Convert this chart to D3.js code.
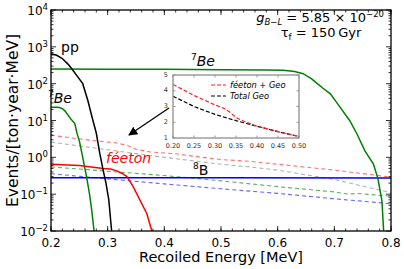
<!DOCTYPE html>
<html>
<head>
<meta charset="utf-8">
<script src="https://cdn.jsdelivr.net/npm/d3@7"></script>
<style>
  body { margin: 0; background: #fff; }
  svg { display: block; font-family: "DejaVu Sans", sans-serif; }
</style>
</head>
<body>
<svg id="chart" width="404" height="269"></svg>
<script>
// ---- data: [recoil energy MeV, events/(ton·year·MeV)] ----
var ppLine = [[0.20,650],[0.21,590],[0.22,480],[0.23,340],[0.237,250],[0.245,170],[0.256,100],
  [0.265,35],[0.274,10],[0.28,4.5],[0.286,1.3],[0.292,0.45],[0.297,0.2],[0.302,0.07],[0.307,0.01]];
var be7Low = [[0.20,23],[0.21,23],[0.215,22.5],[0.22,21],[0.225,18],[0.23,14],[0.235,11],[0.242,8.3],
  [0.246,4.4],[0.25,2.8],[0.256,1.0],[0.263,0.28],[0.268,0.1],[0.272,0.035],[0.276,0.01]];
var be7High = [[0.20,250],[0.30,248],[0.40,245],[0.50,240],[0.58,235],[0.61,230],[0.63,215],[0.645,187],
  [0.66,135],[0.67,100],[0.68,75],[0.693,53],[0.71,23],[0.727,10],[0.74,4.3],[0.754,1.5],[0.769,0.66],
  [0.777,0.26],[0.784,0.066],[0.787,0.01]];
var feeton = [[0.20,0.65],[0.25,0.6],[0.292,0.5],[0.305,0.48],[0.316,0.43],[0.325,0.37],[0.334,0.3],
  [0.345,0.16],[0.357,0.069],[0.369,0.03],[0.378,0.01]];
var b8Line = [[0.20,0.28],[0.50,0.28],[0.80,0.275]];
var feetonGeo = [[0.20,4.0],[0.24,3.3],[0.28,2.8],[0.316,2.45],[0.335,2.1],[0.35,1.65],[0.375,1.4],
  [0.42,1.25],[0.46,1.03],[0.50,0.87],[0.55,0.78],[0.60,0.65],[0.70,0.45],[0.80,0.29]];
var totalGeo = [[0.20,2.6],[0.30,1.6],[0.40,1.0],[0.50,0.65],[0.55,0.55],[0.60,0.45],[0.70,0.25],[0.80,0.11]];
var geoGreen = [[0.20,0.55],[0.30,0.42],[0.40,0.32],[0.50,0.23],[0.60,0.16],[0.70,0.115],[0.725,0.1],
  [0.74,0.105],[0.80,0.088]];
var geoBlue = [[0.20,0.36],[0.30,0.26],[0.40,0.19],[0.50,0.14],[0.60,0.105],[0.70,0.075],[0.80,0.055]];

// inset (linear scale)
var insetFeetonGeo = [[0.20,4.4],[0.25,3.7],[0.30,3.1],[0.32,2.9],[0.335,2.65],[0.35,2.3],[0.37,2.05],
  [0.40,1.75],[0.45,1.4],[0.50,1.1]];
var insetTotalGeo = [[0.20,3.65],[0.25,3.0],[0.30,2.5],[0.35,2.1],[0.40,1.75],[0.45,1.4],[0.50,1.1]];

var xTicks = [0.2, 0.3, 0.4, 0.5, 0.6, 0.7, 0.8];
var yExponents = [-2, -1, 0, 1, 2, 3, 4];
var insetXTicks = [0.20, 0.25, 0.30, 0.35, 0.40, 0.45, 0.50];
var insetYTicks = [1, 2, 3, 4, 5];

var svg = d3.select("#chart");
var pLeft = 51, pRight = 391, pTop = 10, pBottom = 231;

var x = d3.scaleLinear().domain([0.2, 0.8]).range([pLeft, pRight]);
var y = d3.scaleLog().domain([1e-2, 1e4]).range([pBottom, pTop]);

var defs = svg.append("defs");
defs.append("clipPath").attr("id", "clip")
  .append("rect").attr("x", pLeft).attr("y", pTop).attr("width", pRight - pLeft).attr("height", pBottom - pTop);

var line = d3.line().x(function(d) { return x(d[0]); }).y(function(d) { return y(d[1]); });

var plot = svg.append("g").attr("clip-path", "url(#clip)");

function addLine(data, colour, width, dash) {
  plot.append("path").datum(data)
    .attr("d", line)
    .attr("fill", "none")
    .attr("stroke", colour)
    .attr("stroke-width", width)
    .attr("stroke-dasharray", dash || null);
}

// dashed backgrounds first
addLine(feetonGeo, "#ff7070", 1.1, "4,3");
addLine(totalGeo, "#b0b0b0", 1.1, "4,3");
addLine(geoGreen, "#5aaf5a", 1.1, "4,3");
addLine(geoBlue, "#6666ff", 1.1, "4,3");
// solid fluxes
addLine(b8Line, "#0000ee", 1.5);
addLine(be7High, "#008000", 1.5);
addLine(be7Low, "#008000", 1.5);
addLine(feeton, "#ff0000", 1.5);
addLine(ppLine, "#000000", 1.5);

// ---- axes (ticks inward, mirrored) ----
var minorX = d3.range(0.2, 0.8001, 0.02);
var minorY = [];
yExponents.slice(0, -1).forEach(function(e) {
  for (var k = 2; k <= 9; k++) minorY.push(k * Math.pow(10, e));
});

function tickLines(g, vals, fn) { vals.forEach(function(v) { fn(g, v); }); }

var axes = svg.append("g").attr("stroke", "#000");
tickLines(axes, xTicks, function(g, v) {
  g.append("line").attr("x1", x(v)).attr("x2", x(v)).attr("y1", pBottom).attr("y2", pBottom - 5);
  g.append("line").attr("x1", x(v)).attr("x2", x(v)).attr("y1", pTop).attr("y2", pTop + 5);
});
tickLines(axes, minorX, function(g, v) {
  g.append("line").attr("x1", x(v)).attr("x2", x(v)).attr("y1", pBottom).attr("y2", pBottom - 2.5);
  g.append("line").attr("x1", x(v)).attr("x2", x(v)).attr("y1", pTop).attr("y2", pTop + 2.5);
});
tickLines(axes, yExponents, function(g, e) {
  var v = Math.pow(10, e);
  g.append("line").attr("x1", pLeft).attr("x2", pLeft + 5).attr("y1", y(v)).attr("y2", y(v));
  g.append("line").attr("x1", pRight).attr("x2", pRight - 5).attr("y1", y(v)).attr("y2", y(v));
});
tickLines(axes, minorY, function(g, v) {
  g.append("line").attr("x1", pLeft).attr("x2", pLeft + 2.5).attr("y1", y(v)).attr("y2", y(v));
  g.append("line").attr("x1", pRight).attr("x2", pRight - 2.5).attr("y1", y(v)).attr("y2", y(v));
});
axes.selectAll("line").attr("stroke-width", 0.8);

svg.append("rect")
  .attr("x", pLeft).attr("y", pTop).attr("width", pRight - pLeft).attr("height", pBottom - pTop)
  .attr("fill", "none").attr("stroke", "#000").attr("stroke-width", 1.3);

// tick labels
svg.append("g").selectAll("text").data(xTicks).enter().append("text")
  .attr("x", function(d) { return x(d); })
  .attr("y", pBottom + 16)
  .attr("text-anchor", "middle")
  .attr("font-size", 12)
  .text(function(d) { return d.toFixed(1); });

var yl = svg.append("g").selectAll("text").data(yExponents).enter().append("text")
  .attr("x", pLeft - 3)
  .attr("y", function(d) { return y(Math.pow(10, d)) + 5; })
  .attr("text-anchor", "end")
  .attr("font-size", 12);
yl.append("tspan").text("10");
yl.append("tspan").attr("dy", -5).attr("font-size", 8.5)
  .text(function(d) { return d < 0 ? "\u2212" + (-d) : d; });

// axis titles
svg.append("text")
  .attr("x", 221).attr("y", 262)
  .attr("text-anchor", "middle").attr("font-size", 14.5)
  .text("Recoiled Energy [MeV]");
svg.append("text")
  .attr("transform", "translate(18," + (pTop + pBottom) / 2 + ") rotate(-90)")
  .attr("text-anchor", "middle").attr("font-size", 15.5)
  .text("Events/[ton\u00b7year\u00b7MeV]");

// ---- curve labels ----
svg.append("text").attr("x", 61).attr("y", 52).attr("font-size", 14).text("pp");
var be1 = svg.append("text").attr("x", 48).attr("y", 103).attr("font-size", 14);
be1.append("tspan").attr("font-size", 9).attr("dy", -6).text("7");
be1.append("tspan").attr("dy", 6).attr("font-style", "italic").text("Be");
var be2 = svg.append("text").attr("x", 191).attr("y", 66).attr("font-size", 14);
be2.append("tspan").attr("font-size", 9).attr("dy", -6).text("7");
be2.append("tspan").attr("dy", 6).attr("font-style", "italic").text("Be");
var b8 = svg.append("text").attr("x", 193).attr("y", 175).attr("font-size", 14);
b8.append("tspan").attr("font-size", 9).attr("dy", -6).text("8");
b8.append("tspan").attr("dy", 6).text("B");
svg.append("text").attr("x", 106).attr("y", 163).attr("font-size", 14)
  .attr("font-style", "italic").attr("fill", "#ff0000").text("f\u00e9eton");

// parameters text
var g1 = svg.append("text").attr("x", 384).attr("y", 22).attr("text-anchor", "end").attr("font-size", 13);
g1.append("tspan").attr("font-style", "italic").text("g");
g1.append("tspan").attr("font-size", 8.5).attr("font-style", "italic").attr("dy", 3).text("B\u2212L");
g1.append("tspan").attr("dy", -3).text(" = 5.85 \u00d7 10");
g1.append("tspan").attr("font-size", 8.5).attr("dy", -5).text("\u221220");
var g2 = svg.append("text").attr("x", 321).attr("y", 37).attr("text-anchor", "middle").attr("font-size", 13);
g2.append("tspan").text("\u03c4");
g2.append("tspan").attr("font-size", 8.5).attr("dy", 3).text("f");
g2.append("tspan").attr("dy", -3).text(" = 150\u2009Gyr");

// ---- arrow ----
defs.append("marker").attr("id", "head").attr("viewBox", "0 0 10 10")
  .attr("refX", 9).attr("refY", 5).attr("markerWidth", 7).attr("markerHeight", 7)
  .attr("orient", "auto")
  .append("path").attr("d", "M0,0 L10,5 L0,10 z").attr("fill", "#000");
svg.append("line").attr("x1", 169).attr("y1", 108).attr("x2", 129).attr("y2", 135)
  .attr("stroke", "#000").attr("stroke-width", 1.3).attr("marker-end", "url(#head)");

// ---- inset ----
var ix = d3.scaleLinear().domain([0.2, 0.5]).range([173, 299]);
var iy = d3.scaleLinear().domain([1, 5]).range([138, 75]);
var inset = svg.append("g");
inset.append("rect").attr("x", 173).attr("y", 75).attr("width", 126).attr("height", 63)
  .attr("fill", "#fff");
var iline = d3.line().x(function(d) { return ix(d[0]); }).y(function(d) { return iy(d[1]); });
inset.append("path").datum(insetTotalGeo).attr("d", iline).attr("fill", "none")
  .attr("stroke", "#000").attr("stroke-width", 1.2).attr("stroke-dasharray", "4,2");
inset.append("path").datum(insetFeetonGeo).attr("d", iline).attr("fill", "none")
  .attr("stroke", "#ff2020").attr("stroke-width", 1.2).attr("stroke-dasharray", "4,2");
insetXTicks.forEach(function(v) {
  inset.append("line").attr("x1", ix(v)).attr("x2", ix(v)).attr("y1", 138).attr("y2", 135.5)
    .attr("stroke", "#555").attr("stroke-width", 0.6);
  inset.append("line").attr("x1", ix(v)).attr("x2", ix(v)).attr("y1", 75).attr("y2", 77.5)
    .attr("stroke", "#555").attr("stroke-width", 0.6);
});
insetYTicks.forEach(function(v) {
  inset.append("line").attr("x1", 173).attr("x2", 175.5).attr("y1", iy(v)).attr("y2", iy(v))
    .attr("stroke", "#555").attr("stroke-width", 0.6);
  inset.append("line").attr("x1", 299).attr("x2", 296.5).attr("y1", iy(v)).attr("y2", iy(v))
    .attr("stroke", "#555").attr("stroke-width", 0.6);
});
inset.append("rect").attr("x", 173).attr("y", 75).attr("width", 126).attr("height", 63)
  .attr("fill", "none").attr("stroke", "#909090").attr("stroke-width", 1.3);
inset.selectAll("text.ixt").data(insetXTicks).enter().append("text")
  .attr("x", function(d) { return ix(d); }).attr("y", 147.5)
  .attr("text-anchor", "middle").attr("font-size", 6.5).attr("fill", "#333")
  .text(function(d) { return d.toFixed(2); });
inset.selectAll("text.iyt").data(insetYTicks).enter().append("text")
  .attr("x", 168).attr("y", function(d) { return iy(d) + 1.5; })
  .attr("text-anchor", "end").attr("font-size", 6.5).attr("fill", "#333")
  .text(function(d) { return d; });
// inset legend
inset.append("line").attr("x1", 211).attr("x2", 226).attr("y1", 85).attr("y2", 85)
  .attr("stroke", "#ff2020").attr("stroke-width", 1.2).attr("stroke-dasharray", "4,2");
inset.append("text").attr("x", 230).attr("y", 88).attr("font-size", 8.3)
  .attr("font-style", "italic").text("f\u00e9eton + Geo");
inset.append("line").attr("x1", 211).attr("x2", 226).attr("y1", 96).attr("y2", 96)
  .attr("stroke", "#000").attr("stroke-width", 1.2).attr("stroke-dasharray", "4,2");
inset.append("text").attr("x", 230).attr("y", 99).attr("font-size", 8.3)
  .attr("font-style", "italic").text("Total Geo");
</script>
</body>
</html>
